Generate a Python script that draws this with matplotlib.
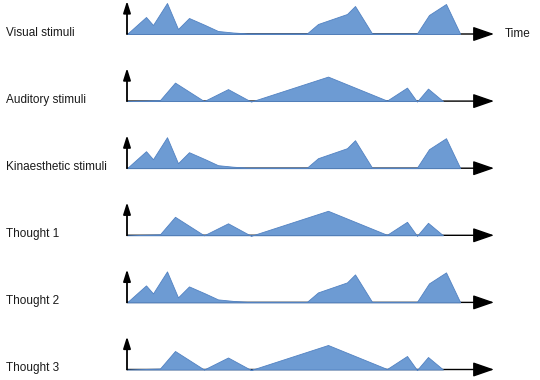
import matplotlib
matplotlib.use('Agg')
import matplotlib.pyplot as plt

# row labels, top to bottom
row_labels = ['Visual stimuli', 'Auditory stimuli', 'Kinaesthetic stimuli',
              'Thought 1', 'Thought 2', 'Thought 3']

# pattern A (visual-like): time, intensity
t_a = [0, 19, 26, 40, 51, 62, 78, 91, 106, 120, 180, 191, 220, 228, 245, 290, 302, 319, 333]
v_a = [0, 17, 9, 31, 5, 16, 9, 3, 1.5, 0.6, 0.6, 10, 20, 28, 0.6, 0.6, 19, 30, 0.6]

# pattern B (auditory-like)
t_b = [0, 33, 48, 77, 101, 124, 201, 260, 280, 290, 301, 316]
v_b = [0, 1, 18.5, 0, 12, -0.5, 24.5, 0.5, 13.5, -0.5, 12.5, 0]

row_series = [(t_a, v_a), (t_b, v_b), (t_a, v_a), (t_b, v_b), (t_a, v_a), (t_b, v_b)]

W, H = 540, 380
fig = plt.figure(figsize=(W / 100, H / 100), dpi=100)
fig.patch.set_facecolor('white')

fill_col = '#6d9bd3'
edge_col = '#5282c2'
x0_px = 127          # pixel where time axis starts
xlo, xhi = -4, 372
ylo, yhi = -4, 36

for i, (lab, (t, v)) in enumerate(zip(row_labels, row_series)):
    base_px = 34 + 67.1 * i
    ax = fig.add_axes([(x0_px + xlo) / W, (H - (base_px - ylo)) / H,
                       (xhi - xlo) / W, (yhi - ylo) / H])
    ax.set_xlim(xlo, xhi)
    ax.set_ylim(ylo, yhi)
    ax.axis('off')
    ax.fill_between(t, v, 0, color=fill_col, edgecolor=edge_col, linewidth=0.6, zorder=2)
    # time axis
    ax.annotate('', xy=(367, 0), xytext=(0, 0),
                arrowprops=dict(arrowstyle='-|>,head_length=1.3,head_width=0.45',
                                color='black', lw=1.0, shrinkA=0, shrinkB=0,
                                mutation_scale=10), zorder=1)
    # vertical axis
    ax.annotate('', xy=(0, 33), xytext=(0, 0),
                arrowprops=dict(arrowstyle='-|>,head_length=0.7,head_width=0.22',
                                color='black', lw=1.3, shrinkA=0, shrinkB=0,
                                mutation_scale=10), zorder=3)
    fig.text(6 / W, (H - base_px + 1.5) / H, lab, fontsize=8.5,
             family='Liberation Sans', va='center', ha='left', color='#1a1a1a')
    if i == 0:
        fig.text(505 / W, (H - base_px) / H, 'Time', fontsize=8.5,
                 family='Liberation Sans', va='center', ha='left', color='#1a1a1a')

fig.savefig('out.png', dpi=100, facecolor='white')
